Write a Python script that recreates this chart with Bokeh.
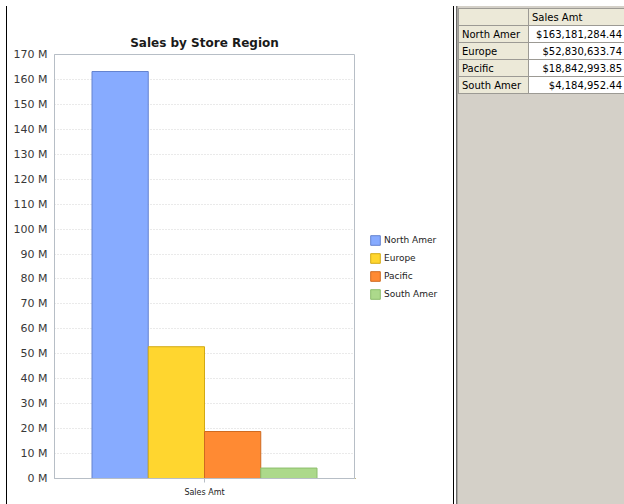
from bokeh.plotting import figure
from bokeh.models import (ColumnDataSource, Legend, LegendItem, SingleIntervalTicker,
                          CustomJSTickFormatter, Div, Range1d, FactorRange)
from bokeh.layouts import row, column
from bokeh.transform import dodge
from bokeh.embed import file_html
from bokeh.resources import INLINE

# ---- data ---------------------------------------------------------------
measure = "Sales Amt"
regions = ["North Amer", "Europe", "Pacific", "South Amer"]
sales_amt = [163181284.44, 52830633.74, 18842993.85, 4184952.44]
y_max = 170_000_000
y_step = 10_000_000

# ---- styling --------------------------------------------------------------
fill_colors = ["#87abff", "#ffd62f", "#ff8a33", "#acd98b"]
line_colors = ["#6483cf", "#d2a914", "#cf6a20", "#8cbd6c"]
frame_grey = "#b7bec6"
text_font = "DejaVu Sans"

# ---- chart ---------------------------------------------------------------
p = figure(width=348, height=498,
           x_range=FactorRange(factors=[measure], range_padding=0),
           y_range=Range1d(0, y_max),
           output_backend="svg", toolbar_location=None,
           min_border_left=47, min_border_right=1,
           min_border_top=48, min_border_bottom=26,
           background_fill_color="white", border_fill_color="white")

p.title.text = "Sales by Store Region"
p.title.align = "center"
p.title.text_font = text_font
p.title.text_font_style = "bold"
p.title.text_font_size = "12px"
p.title.text_color = "#1a1a1a"

group_width = 0.75
bar_w = group_width / len(regions)
for i, (name, amt) in enumerate(zip(regions, sales_amt)):
    src = ColumnDataSource(dict(x=[measure], top=[amt], region=[name]))
    offset = (i - (len(regions) - 1) / 2) * bar_w
    p.vbar(x=dodge("x", offset, range=p.x_range), top="top", width=bar_w,
           source=src, fill_color=fill_colors[i], line_color=line_colors[i],
           line_width=1)

p.yaxis.ticker = SingleIntervalTicker(interval=y_step, num_minor_ticks=0)
p.yaxis.formatter = CustomJSTickFormatter(code="return (tick / 1e6).toFixed(0) + ' M';")
p.yaxis.major_tick_out = 0
p.yaxis.major_tick_in = 0
p.yaxis.minor_tick_line_color = None
p.yaxis.major_label_standoff = 7
p.yaxis.major_label_text_font = text_font
p.yaxis.major_label_text_font_size = "11px"
p.yaxis.major_label_text_color = "#383838"
p.yaxis.axis_line_color = frame_grey

p.xaxis.major_tick_out = 4
p.xaxis.major_tick_in = 0
p.xaxis.major_tick_line_color = frame_grey
p.xaxis.major_label_standoff = 5
p.xaxis.major_label_text_font = text_font
p.xaxis.major_label_text_font_size = "8px"
p.xaxis.major_label_text_color = "#222222"
p.xaxis.axis_line_color = frame_grey

p.xgrid.visible = False
p.ygrid.grid_line_color = "#d4d4d4"
p.ygrid.grid_line_dash = "1 2"
p.outline_line_color = frame_grey

# ---- legend, drawn in its own strip to the right of the plot frame -------
# (its frame is aligned with the chart's frame by the row layout)
lg = figure(width=98, height=498, x_range=Range1d(0, 1), y_range=Range1d(0, 1),
            output_backend="svg", toolbar_location=None,
            x_axis_location=None, y_axis_location=None,
            min_border=0, outline_line_color=None,
            background_fill_color="white", border_fill_color="white")
lg.grid.visible = False
items = []
for name, amt, fc, lc in zip(regions, sales_amt, fill_colors, line_colors):
    # swatch renderer: same bar style, placed outside this strip's visible range
    swatch = lg.vbar(x=[-10], top=[-10], bottom=[-11], width=1,
                     fill_color=fc, line_color=lc)
    items.append(LegendItem(label=name, renderers=[swatch]))
legend = Legend(items=items, location=(14, 178), orientation="vertical",
                glyph_width=12, glyph_height=12, label_height=12,
                label_standoff=3, spacing=6, padding=0, margin=0,
                border_line_color=None, background_fill_alpha=0,
                label_text_font=text_font, label_text_font_size="9px",
                label_text_color="#222222")
lg.add_layout(legend)

# ---- window chrome and value table ---------------------------------------
top_strip = Div(width=624, height=6, margin=0,
                text='<div style="height:5px;background:#ececec"></div>'
                     '<div style="height:1px;background:#a2a2a2"></div>',
                styles={"overflow": "hidden"})
left_pad = Div(width=6, height=498, margin=0, text="",
               styles={"background-color": "white"})
left_edge = Div(width=1, height=498, margin=0, text="",
                styles={"background-color": "black"})

cell = ("box-sizing:border-box;height:17px;border:1px solid #9c9a94;"
        "padding:0 3px;white-space:nowrap;overflow:hidden;line-height:15px;")
rows_html = ('<tr><td style="%sbackground:#ece9d8;width:70px"></td>'
             '<td style="%sbackground:#ece9d8;text-align:left;width:97px">%s</td></tr>'
             % (cell, cell, measure))
for k, (name, amt) in enumerate(zip(regions, sales_amt)):
    val_border = "border:1px dotted #555;" if k == 0 else ""
    rows_html += ('<tr><td style="%sbackground:#ece9d8">%s</td>'
                  '<td style="%sbackground:#fff;text-align:right;%s">$%s</td></tr>'
                  % (cell, name, cell, val_border, f"{amt:,.2f}"))

panel_html = f'''
<div style="position:relative;width:171px;height:498px;background:#d4d0c8;overflow:hidden;
            font-family:'{text_font}';font-size:10px;color:#000;">
  <div style="position:absolute;left:0;top:0;width:1px;height:498px;background:#000"></div>
  <div style="position:absolute;left:1px;top:0;width:2px;height:498px;background:#fff"></div>
  <div style="position:absolute;left:3px;top:0;width:1px;height:498px;background:#6c6c6c"></div>
  <div style="position:absolute;left:4px;top:0;width:1px;height:498px;background:#a9a69f"></div>
  <table style="position:absolute;left:5px;top:2px;border-collapse:collapse;
                table-layout:fixed;width:167px;font-family:'{text_font}';font-size:10px;">
    {rows_html}
  </table>
</div>'''
right_panel = Div(width=171, height=498, margin=0, text=panel_html,
                  styles={"overflow": "hidden"})

layout = column(top_strip,
                row(left_pad, left_edge, p, lg, right_panel, spacing=0),
                spacing=0)

open("out.html", "w").write(file_html(layout, INLINE))
